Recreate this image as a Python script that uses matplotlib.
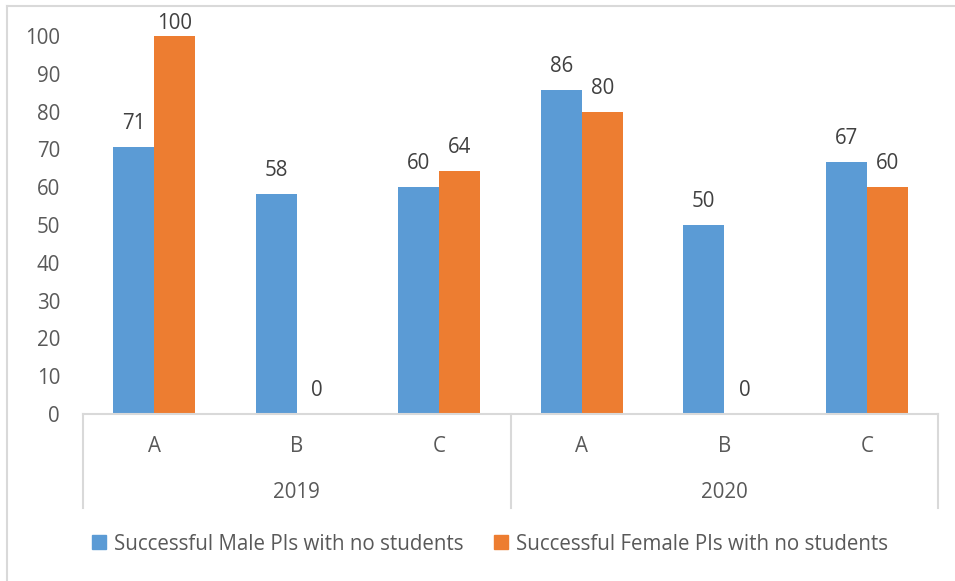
import matplotlib
matplotlib.use("Agg")
import matplotlib.pyplot as plt
from matplotlib.lines import Line2D
from matplotlib.patches import Patch
import numpy as np

plt.rcParams['font.family'] = ['Open Sans', 'DejaVu Sans']

years = ["2019", "2020"]
groups = ["A", "B", "C", "A", "B", "C"]
male = [70.6, 58.3, 60.0, 85.7, 50.0, 66.7]
female = [100.0, 0.0, 64.3, 80.0, 0.0, 60.0]
yticks = [0, 10, 20, 30, 40, 50, 60, 70, 80, 90, 100]
series_names = ["Successful Male PIs with no students", "Successful Female PIs with no students"]

BLUE = "#5b9bd5"
ORANGE = "#ed7d31"
TXT = "#595959"
LBL = "#404040"
GRID = "#d9d9d9"
FS = 14.8

W, H = 955, 581
fig = plt.figure(figsize=(W / 100, H / 100), dpi=100)
ax_l, ax_r, ax_b, ax_t = 83, 938, 414, 36
ax = fig.add_axes([ax_l / W, 1 - ax_b / H, (ax_r - ax_l) / W, (ax_b - ax_t) / H])

x = np.arange(len(groups))
bw = 0.288
b1 = ax.bar(x - bw / 2, male, bw, color=BLUE, zorder=2)
b2 = ax.bar(x + bw / 2, female, bw, color=ORANGE, zorder=2)
px_per_unit = (ax_b - ax_t) / 100.0
for bars, vals in ((b1, male), (b2, female)):
    for rect, v in zip(bars, vals):
        top_px = ax_b - v * px_per_unit          # pixel row of bar top
        base_px = max(top_px - 18, 29)          # keep label inside the chart
        off_pt = (top_px - base_px) * 0.72
        ax.annotate(f"{v:.0f}", (rect.get_x() + rect.get_width() / 2, v),
                    xytext=(0, off_pt), textcoords="offset points",
                    ha="center", va="baseline", fontsize=FS, color=LBL,
                    annotation_clip=False)

ax.set_xlim(-0.5, len(groups) - 0.5)
ax.set_ylim(0, 100)
ax.set_yticks(yticks)
ax.set_yticklabels([str(t) for t in yticks], fontsize=FS, color=TXT)
ax.tick_params(axis="y", length=0, pad=16.5)
ax.set_xticks([])
for s in ("top", "right", "left"):
    ax.spines[s].set_visible(False)
ax.spines["bottom"].set_color(GRID)
ax.spines["bottom"].set_linewidth(1.5)

# multi-level category axis
sep_bottom = 508
def fx(xd):
    return ax_l + (xd + 0.5) / len(groups) * (ax_r - ax_l)
for xd in (-0.5, 2.5, 5.5):
    px = fx(xd)
    fig.add_artist(Line2D([px / W, px / W], [1 - ax_b / H, 1 - sep_bottom / H],
                          color=GRID, lw=1.5, transform=fig.transFigure))
for i, g in enumerate(groups):
    fig.text(fx(i) / W, 1 - 447 / H, g, ha="center", va="center", fontsize=FS, color=TXT)
for j, yr in enumerate(years):
    fig.text(fx(3 * j + 1) / W, 1 - 493 / H, yr, ha="center", va="center", fontsize=FS, color=TXT)

# chart border (top & left visible)
fig.add_artist(Line2D([7 / W, 7 / W], [0, 1 - 6 / H], color=GRID, lw=1.5, transform=fig.transFigure))
fig.add_artist(Line2D([7 / W, 1], [1 - 6 / H, 1 - 6 / H], color=GRID, lw=1.5, transform=fig.transFigure))

handles = [Patch(color=BLUE), Patch(color=ORANGE)]
leg = fig.legend(handles, series_names, loc="center", bbox_to_anchor=(490 / W, 1 - 544 / H),
                 ncol=2, frameon=False, fontsize=FS, handlelength=0.65, handleheight=0.65,
                 handletextpad=0.4, columnspacing=1.5, borderaxespad=0)
for t in leg.get_texts():
    t.set_color(TXT)

fig.savefig("out.png", dpi=100)
